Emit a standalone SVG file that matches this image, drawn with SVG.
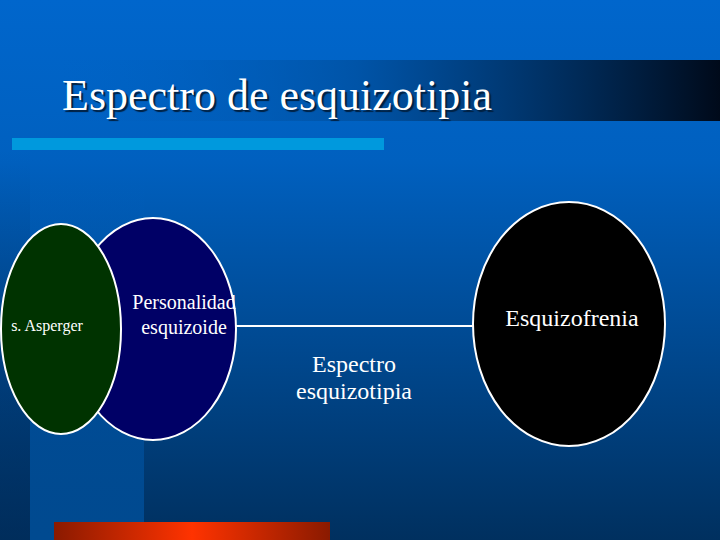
<svg xmlns="http://www.w3.org/2000/svg" width="720" height="540" viewBox="0 0 720 540">
<defs>
<linearGradient id="bg" x1="0" y1="0" x2="0" y2="1">
<stop offset="0" stop-color="#0066cc"/>
<stop offset="0.3" stop-color="#0060bf"/>
<stop offset="1" stop-color="#00305f"/>
</linearGradient>
<linearGradient id="stripe" x1="0" y1="0" x2="0" y2="1">
<stop offset="0" stop-color="#0060c0" stop-opacity="0"/>
<stop offset="1" stop-color="#004a90" stop-opacity="1"/>
</linearGradient>
<linearGradient id="dark" x1="0" y1="0" x2="0" y2="1">
<stop offset="0" stop-color="#002a58" stop-opacity="0"/>
<stop offset="1" stop-color="#002a58" stop-opacity="0.5"/>
</linearGradient>
<linearGradient id="band" x1="0" y1="0" x2="1" y2="0">
<stop offset="0" stop-color="#0060c0" stop-opacity="0"/>
<stop offset="0.45" stop-color="#0050a0" stop-opacity="0.8"/>
<stop offset="1" stop-color="#000a1a"/>
</linearGradient>
<linearGradient id="red" x1="0" y1="0" x2="1" y2="0">
<stop offset="0" stop-color="#8a1a00"/>
<stop offset="0.5" stop-color="#ff3300"/>
<stop offset="1" stop-color="#8a1a00"/>
</linearGradient>
<style>
.node{stroke:#ffffff;stroke-width:2}
.t{fill:#ffffff;text-anchor:middle}
</style>
</defs>
<rect width="720" height="540" fill="url(#bg)"/>
<rect x="0" y="150" width="30" height="390" fill="url(#dark)"/>
<rect x="30" y="150" width="114" height="390" fill="url(#stripe)"/>
<rect x="60" y="60" width="660" height="61" fill="url(#band)"/>
<text x="62" y="110" font-family="Liberation Serif, Times New Roman, serif" font-size="44" fill="#ffffff" style="text-shadow:2px 2px 1px #002040">Espectro de esquizotipia</text>
<rect x="12" y="138" width="372" height="12" fill="#0099dd"/>
<rect x="54" y="522" width="276" height="18" fill="url(#red)"/>
<g id="connectors">
<line x1="236" y1="326" x2="474" y2="326" stroke="#ffffff" stroke-width="2"/>
</g>
<g font-family="Liberation Serif, Times New Roman, serif">
<g id="personalidad">
<ellipse class="node" cx="153" cy="329" rx="83" ry="111" fill="#000066"/>
<text class="t" x="184" y="309" font-size="20">Personalidad</text>
<text class="t" x="184" y="334" font-size="20">esquizoide</text>
</g>
<g id="asperger">
<ellipse class="node" cx="61" cy="329" rx="60" ry="105" fill="#003300"/>
<text class="t" x="47" y="331" font-size="16">s. Asperger</text>
</g>
<g id="esquizofrenia">
<ellipse class="node" cx="569" cy="324" rx="96" ry="122" fill="#000000"/>
<text class="t" x="572" y="326" font-size="24">Esquizofrenia</text>
</g>
<g id="espectro">
<text class="t" x="354" y="372" font-size="24">Espectro</text>
<text class="t" x="354" y="399" font-size="24">esquizotipia</text>
</g>
</g>
</svg>
